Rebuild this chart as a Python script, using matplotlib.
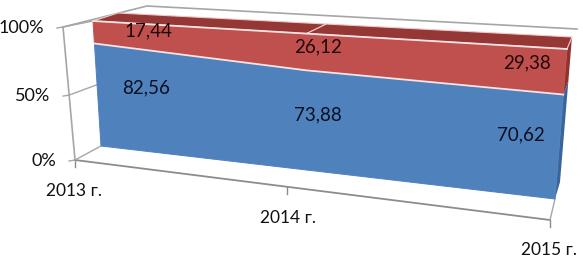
import numpy as np
import matplotlib
matplotlib.use('Agg')
import matplotlib.pyplot as plt
from matplotlib.patches import Polygon

years = ['2013 г.', '2014 г.', '2015 г.']
pct_ticks = [0, 50, 100]
share_blue = [82.56, 73.88, 70.62]
share_red = [17.44, 26.12, 29.38]


def homography(corners):
    # corners: pixel position of (0,0), (2,0), (2,100), (0,100)
    src = [(0, 0), (2, 0), (2, 100), (0, 100)]
    A = []
    b = []
    for (u, v), (px, py) in zip(src, corners):
        A.append([u, v, 1, 0, 0, 0, -u*px, -v*px])
        A.append([0, 0, 0, u, v, 1, -u*py, -v*py])
        b += [px, py]
    h = np.linalg.solve(np.array(A, float), np.array(b, float))
    return np.append(h, 1).reshape(3, 3)


def project(H, x, y):
    p = H @ np.array([x, y, 1.0])
    return p[0]/p[2], p[1]/p[2]


front = homography([(101, 146), (555, 199), (567, 49), (93, 21)])
back = homography([(127, 138), (560, 182), (572, 37), (118, 13)])
frame = homography([(75, 160), (550, 220), (564, 56), (63, 27)])

fig = plt.figure(figsize=(5.83, 2.57), dpi=100)
ax = fig.add_axes([0, 0, 1, 1])
ax.set_xlim(0, 583)
ax.set_ylim(257, 0)
ax.axis('off')
plt.rcParams['font.family'] = ['Lato', 'DejaVu Sans']

grey = '#a6a6a6'
# stenka i pol
ax.plot([63, 147, 577], [27, 6, 29], color=grey, lw=1.2, zorder=1)
ax.plot([75, 550], [160, 220], color='#8c8c8c', lw=1.3, zorder=1)
ax.plot([75, 63], [160, 27], color=grey, lw=1.2, zorder=1)
ax.plot([550, 555], [220, 199], color=grey, lw=1, zorder=1)

# podelenija
for v in pct_ticks:
    x0, y0 = project(frame, 0, v)
    x1, y1 = project(front, 0, v)
    ax.plot([x0, x1], [y0, y1], color=grey, lw=1, zorder=1)
    ax.plot([x0-6, x0], [y0+1, y0], color=grey, lw=1, zorder=1)
    ax.text(x0-19, y0+1, str(v)+'%', ha='right', va='center', fontsize=13, color='#111111')
for i in range(3):
    x0, y0 = project(frame, i, 0)
    ax.plot([x0, x0], [y0, y0+7], color='#8c8c8c', lw=1, zorder=1)

cum_lo = [0, 0, 0]
cum_mid = share_blue
cum_top = [a+b for a, b in zip(share_blue, share_red)]

# bokovaja storona
for lo, hi, c in [(cum_lo, cum_mid, '#3a659b'), (cum_mid, cum_top, '#8f3230')]:
    ax.add_patch(Polygon([project(front, 2, lo[2]), project(front, 2, hi[2]),
                          project(back, 2, hi[2]), project(back, 2, lo[2])],
                         fc=c, ec='none', zorder=2))

# verh
for i in range(2):
    ax.add_patch(Polygon([project(front, i, cum_top[i]), project(front, i+1, cum_top[i+1]),
                          project(back, i+1, cum_top[i+1]), project(back, i, cum_top[i])],
                         fc='#953735', ec='#f0c8c8', lw=0.8, zorder=3))

# perednjaja storona
for lo, hi, c in [(cum_lo, cum_mid, '#4f81bd'), (cum_mid, cum_top, '#c0504d')]:
    for i in range(2):
        ax.add_patch(Polygon([project(front, i, lo[i]), project(front, i+1, lo[i+1]),
                              project(front, i+1, hi[i+1]), project(front, i, hi[i])],
                             fc=c, ec=c, lw=0.7, zorder=4))
    xs, ys = zip(*[project(front, i, hi[i]) for i in range(3)])
    ax.plot(xs, ys, color='#f7e4e4', lw=1.3, zorder=5)

# podpisi
blue_pos = [(146, 88), (318, 115), (521, 135)]
red_pos = [(148, 31), (318, 47), (527, 63)]
for (x, y), v in zip(blue_pos, share_blue):
    ax.text(x, y, f'{v:.2f}'.replace('.', ','), ha='center', va='center',
            fontsize=13.5, color='#0a0f20', zorder=6)
for (x, y), v in zip(red_pos, share_red):
    ax.text(x, y, f'{v:.2f}'.replace('.', ','), ha='center', va='center',
            fontsize=13.5, color='#200808', zorder=6)

year_pos = [(74, 191), (288, 218), (549, 250)]
for (x, y), s in zip(year_pos, years):
    ax.text(x, y, s, ha='center', va='center', fontsize=12.5, color='#111111')

fig.savefig('out.png', dpi=100)
